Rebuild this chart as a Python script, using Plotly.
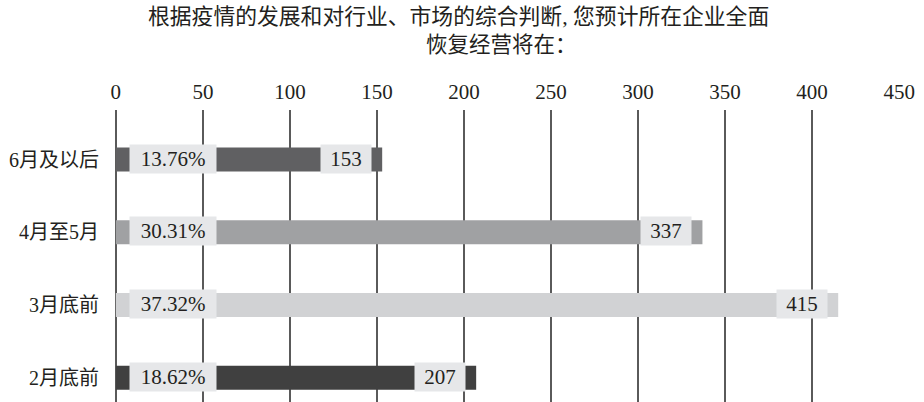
import plotly.graph_objects as go

categories = ["2月底前", "3月底前", "4月至5月", "6月及以后"]
counts = [207, 415, 337, 153]
percents = ["18.62%", "37.32%", "30.31%", "13.76%"]
bar_colors = ["#404040", "#d1d2d4", "#a0a1a3", "#606062"]
x_ticks = [0, 50, 100, 150, 200, 250, 300, 350, 400, 450]
title_line1 = "根据疫情的发展和对行业、市场的综合判断, 您预计所在企业全面"
title_line2 = "恢复经营将在："

FONT = "Liberation Serif, Noto Sans CJK SC, serif"
TXT = "#231f20"
LABEL_BG = "#e6e7e9"
GRID = "#5a5a5a"

fig = go.Figure()
fig.add_trace(go.Bar(
    x=counts, y=categories, orientation="h",
    marker=dict(color=bar_colors, line=dict(width=0)),
    width=0.33, hoverinfo="skip", showlegend=False,
))

annotations = []
for cat, v, p in zip(categories, counts, percents):
    annotations.append(dict(
        x=0, y=cat, xref="x", yref="y", text=p, showarrow=False,
        xanchor="left", yanchor="middle", xshift=13, yshift=1,
        width=86, height=28, bgcolor=LABEL_BG, borderpad=0, align="center",
        font=dict(family=FONT, size=21, color=TXT),
    ))
    annotations.append(dict(
        x=v, y=cat, xref="x", yref="y", text=str(v), showarrow=False,
        xanchor="right", yanchor="middle", xshift=-10, yshift=1,
        width=50, height=28, bgcolor=LABEL_BG, borderpad=0, align="center",
        font=dict(family=FONT, size=21, color=TXT),
    ))

annotations.append(dict(
    text=title_line1, xref="paper", yref="paper", x=0.437, y=1, yshift=93,
    xanchor="center", yanchor="middle", showarrow=False,
    font=dict(family=FONT, size=21.8, color=TXT),
))
annotations.append(dict(
    text=title_line2, xref="paper", yref="paper", x=0.492, y=1, yshift=65,
    xanchor="center", yanchor="middle", showarrow=False,
    font=dict(family=FONT, size=21.5, color=TXT),
))

fig.update_layout(
    width=924, height=402,
    margin=dict(l=115, r=24, t=110, b=0, pad=0),
    paper_bgcolor="white", plot_bgcolor="white",
    annotations=annotations,
    xaxis=dict(
        side="top", range=[-0.5, 450.5], tickvals=x_ticks,
        showgrid=True, gridcolor=GRID, gridwidth=1.6,
        zeroline=True, zerolinecolor=GRID, zerolinewidth=1.6,
        showline=False, ticks="",
        ticklabelstandoff=6,
        tickfont=dict(family=FONT, size=21, color=TXT),
        fixedrange=True,
    ),
    yaxis=dict(
        type="category", categoryorder="array", categoryarray=categories,
        range=[-0.334, 3.681], showgrid=False, zeroline=False, showline=False,
        ticks="", ticklabelstandoff=15,
        tickfont=dict(family=FONT, size=20, color=TXT),
        fixedrange=True,
    ),
)

fig.write_html(
    "out.html",
    config={"displayModeBar": False},
    post_script="document.body.style.margin='0';document.body.style.padding='0';",
)
